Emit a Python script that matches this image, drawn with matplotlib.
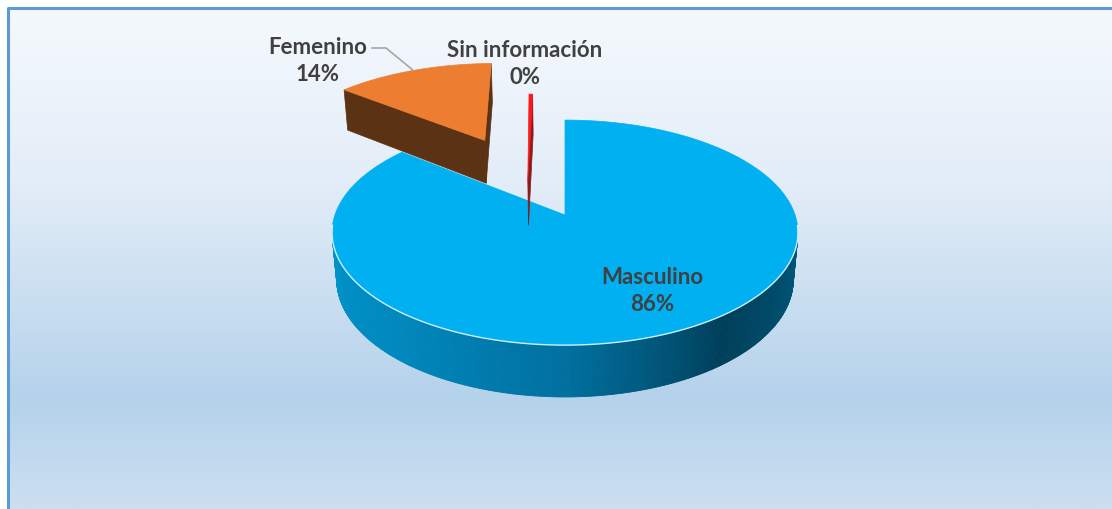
import numpy as np
import matplotlib
matplotlib.use("Agg")
import matplotlib.pyplot as plt
from matplotlib.colors import LinearSegmentedColormap
from matplotlib.collections import PolyCollection

# Chart data
labels = ["Masculino", "Femenino", "Sin información"]
values = [85.8, 13.9, 0.3]
top_colors = ["#00B0F0", "#ED7D31", "#FF1A1A"]
side_colors = [None, "#5C3214", "#8B1A1A"]

# explode offsets of each slice (in disk radii, world x / depth)
offsets = [(0.0, 0.0), (-0.39, 0.76), (-0.17, 0.33)]

# 3D view (perspective camera looking down on the disk)
W, H = 1112, 509
CX, CY = 565, 215
elev = np.radians(28.5)
ce, se = np.cos(elev), np.sin(elev)
D = 5.62
F = 1293
THICK = 0.234


def project(X, Y, Z):
    ry = Y + D * ce
    rz = Z - D * se
    depth = ry * ce - rz * se
    v = ry * se + rz * ce
    return CX + F * X / depth, CY - F * v / depth


fig = plt.figure(figsize=(W / 100, H / 100), dpi=100)
ax = fig.add_axes([0, 0, 1, 1])
ax.set_xlim(0, W)
ax.set_ylim(H, 0)
ax.axis("off")

# background gradient
bg = LinearSegmentedColormap.from_list(
    "bg", [(0, "#F5F9FD"), (0.35, "#E3EDF8"), (0.78, "#B4D2EB"), (1, "#CCDFF1")])
grad = np.linspace(0, 1, 256).reshape(-1, 1)
ax.imshow(grad, cmap=bg, extent=[8, W, H, 8], aspect="auto", zorder=0)
ax.plot([8, 8, W], [H, 8, 8], color="#5B9BD5", lw=2.2, zorder=1,
        solid_capstyle="butt")

side_cmap = LinearSegmentedColormap.from_list(
    "side", [(0, "#005A7C"), (0.27, "#003F5A"), (0.5, "#0070A0"),
             (0.75, "#0088BD"), (1, "#0094CA")])

cam = np.array([0.0, -D * ce, D * se])
total = sum(values)
bounds = np.concatenate([[0], np.cumsum(values) / total * 360])

draw_order = [1, 2, 0]
for i in draw_order:
    a0, a1 = bounds[i], bounds[i + 1]
    ox, oy = offsets[i]
    th = np.radians(np.linspace(a0, a1, max(int(a1 - a0) * 2, 4)))
    rimx = ox + np.sin(th)
    rimy = oy + np.cos(th)
    z = 1.0 + 2 * i

    # radial side faces
    for ang, sign in [(a0, -1), (a1, 1)]:
        t = np.radians(ang)
        n = np.array([sign * np.cos(t), -sign * np.sin(t), 0])
        if np.dot(cam - np.array([ox, oy, 0]), n) <= 0:
            continue
        ex, ey = ox + np.sin(t), oy + np.cos(t)
        pts = [project(ox, oy, 0), project(ex, ey, 0),
               project(ex, ey, -THICK), project(ox, oy, -THICK)]
        c = side_colors[i] if side_colors[i] else "#0070A0"
        ax.add_patch(plt.Polygon(pts, closed=True, fc=c, ec=c, lw=0.5, zorder=z))

    # outer rim side, only the part that faces the camera
    quads, cols = [], []
    for k in range(len(th) - 1):
        tm = 0.5 * (th[k] + th[k + 1])
        vis = -ox * np.sin(tm) - (D * ce + oy) * np.cos(tm) - 1
        if vis <= 0:
            continue
        p1 = project(rimx[k], rimy[k], 0)
        p2 = project(rimx[k + 1], rimy[k + 1], 0)
        p3 = project(rimx[k + 1], rimy[k + 1], -THICK)
        p4 = project(rimx[k], rimy[k], -THICK)
        quads.append([p1, p2, p3, p4])
        if side_colors[i]:
            cols.append(side_colors[i])
        else:
            cols.append(side_cmap(np.clip((np.degrees(tm) - 100) / 160, 0, 1)))
    if quads:
        ax.add_collection(PolyCollection(quads, facecolors=cols, edgecolors=cols,
                                         linewidths=0.6, zorder=z))

    # top face
    px, py = project(rimx, rimy, np.zeros_like(rimx))
    ax0, ay0 = project(ox, oy, 0)
    top = np.column_stack([np.r_[ax0, px], np.r_[ay0, py]])
    ax.add_patch(plt.Polygon(top, closed=True, fc=top_colors[i], ec=top_colors[i],
                             lw=0.5, zorder=z + 1))

    # light highlight on the front rim edge
    if i == 0:
        front = (np.degrees(th) > 95) & (np.degrees(th) < 265)
        ax.plot(px[front], py[front], color="white", lw=1.0, alpha=0.8, zorder=z + 1.5)

# labels
pct = [f"{round(v / total * 100)}%" for v in values]
txt = dict(color="#404040", fontsize=16, fontweight="bold", family="Lato",
           ha="center", va="center", zorder=10, linespacing=1.3)
ax.text(652, 291, f"{labels[0]}\n{pct[0]}", **txt)
ax.text(318, 61, f"{labels[1]}\n{pct[1]}", **txt)
ax.text(525, 64, f"{labels[2]}\n{pct[2]}", **txt)

# leader line for Femenino, ending on the slice's rim
mid = np.radians(0.5 * (bounds[1] + bounds[2]))
lx, ly = project(offsets[1][0] + np.sin(mid), offsets[1][1] + np.cos(mid), 0)
ax.plot([372, 386, lx], [48, 48, ly], color="#A6A6A6", lw=1.2, zorder=9)

fig.savefig("out.png", dpi=100)
